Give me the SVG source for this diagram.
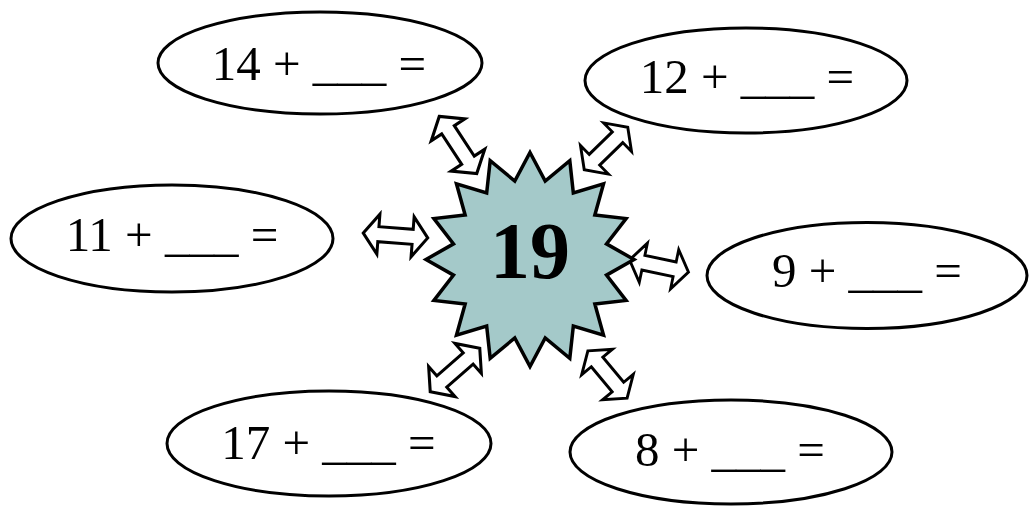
<svg xmlns="http://www.w3.org/2000/svg" xmlns:xlink="http://www.w3.org/1999/xlink" width="1029" height="506" viewBox="0 0 1029 506">
  <style>
    .oval { fill: #ffffff; stroke: #000000; stroke-width: 3; }
    .lbl { font-family: "Liberation Serif", "Times New Roman", serif; font-size: 49px; fill: #000000; text-anchor: middle; }
    .arrow { fill: #ffffff; stroke: #000000; stroke-width: 3; stroke-linejoin: miter; }
    .star { fill: #a4c9c9; stroke: #000000; stroke-width: 3.5; stroke-linejoin: miter; }
    .big { font-family: "Liberation Serif", "Times New Roman", serif; font-size: 80px; font-weight: bold; fill: #000000; text-anchor: middle; }
  </style>
  <defs>
    <polygon id="dbl" points="-32,0 -17,-20 -17,-7.5 17,-7.5 17,-20 32,0 17,20 17,7.5 -17,7.5 -17,20"/>
  </defs>
  <rect width="1029" height="506" fill="#ffffff"/>

  <g id="connectors">
    <use xlink:href="#dbl" class="arrow" transform="translate(458,145) rotate(56.8) scale(1.07,1)"/>
    <use xlink:href="#dbl" class="arrow" transform="translate(395.5,235.5) rotate(4.4) scale(1.01,1)"/>
    <use xlink:href="#dbl" class="arrow" transform="translate(606,148.5) rotate(-44.3) scale(0.95,1)"/>
    <use xlink:href="#dbl" class="arrow" transform="translate(659,266) rotate(11.7) scale(0.94,1)"/>
    <use xlink:href="#dbl" class="arrow" transform="translate(607.5,374.5) rotate(50.3) scale(0.96,1)"/>
    <use xlink:href="#dbl" class="arrow" transform="translate(455,370) rotate(-41.3) scale(1.03,1)"/>
  </g>

  <g id="center-star">
    <polygon class="star" points="530,152.5 545.22,181.04 569.80,160.64 573.33,192.98 603.54,183.84 594.85,215.05 626.08,218.55 606.50,243.89 634,259.5 606.50,275.11 626.08,300.45 594.85,303.95 603.54,335.16 573.33,326.02 569.80,358.36 545.22,337.96 530,366.5 514.78,337.96 490.20,358.36 486.67,326.02 456.46,335.16 465.15,303.95 433.92,300.45 453.50,275.11 426,259.5 453.50,243.89 433.92,218.55 465.15,215.05 456.46,183.84 486.67,192.98 490.20,160.64 514.78,181.04"/>
    <text class="big" x="530" y="278">19</text>
  </g>

  <g id="node-14">
    <ellipse class="oval" cx="320" cy="63" rx="162" ry="51"/>
    <text class="lbl" x="319" y="80">14 + ___ =</text>
  </g>
  <g id="node-12">
    <ellipse class="oval" cx="746" cy="80.5" rx="161" ry="52.5"/>
    <text class="lbl" x="747" y="93">12 + ___ =</text>
  </g>
  <g id="node-11">
    <ellipse class="oval" cx="172" cy="238.5" rx="161" ry="53.5"/>
    <text class="lbl" x="172" y="251">11 + ___ =</text>
  </g>
  <g id="node-9">
    <ellipse class="oval" cx="867" cy="275.5" rx="160" ry="53"/>
    <text class="lbl" x="867" y="287">9 + ___ =</text>
  </g>
  <g id="node-17">
    <ellipse class="oval" cx="329" cy="443.5" rx="162" ry="52.5"/>
    <text class="lbl" x="328.5" y="459">17 + ___ =</text>
  </g>
  <g id="node-8">
    <ellipse class="oval" cx="731" cy="452" rx="161" ry="52"/>
    <text class="lbl" x="730" y="466">8 + ___ =</text>
  </g>
</svg>
